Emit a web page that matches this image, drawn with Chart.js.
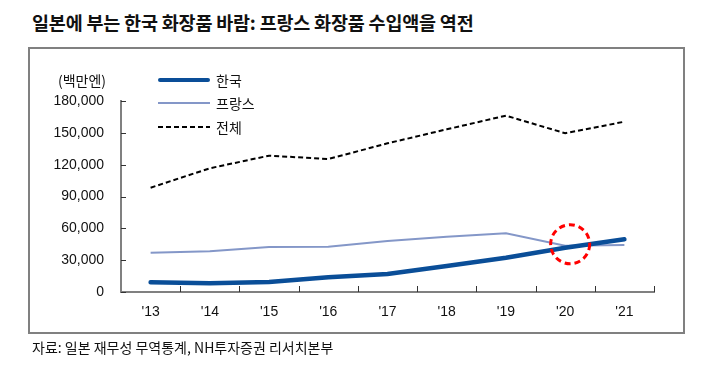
<!DOCTYPE html>
<html>
<head>
<meta charset="utf-8">
<script src="https://cdn.jsdelivr.net/npm/chart.js@4"></script>
<style>
  body { margin: 0; background: #fff; width: 709px; height: 366px; position: relative; overflow: hidden;
         font-family: "Liberation Sans", "Noto Sans CJK KR", sans-serif; }
  #title { position: absolute; left: 32px; top: 9px; font-size: 18.5px; font-weight: bold; color: #111;
           font-family: "Noto Sans CJK KR", sans-serif; letter-spacing: -0.2px; }
  #frame { position: absolute; left: 28px; top: 47px; width: 653px; height: 283px; border: 2px solid #808080; }
  #unit { position: absolute; left: 58px; top: 70px; font-size: 14px; color: #111; font-family: "Noto Sans CJK KR", sans-serif; }
  #legend { position: absolute; left: 158px; top: 68px; font-size: 14px; color: #111; font-family: "Noto Sans CJK KR", sans-serif; }
  #legend div { height: 23.5px; display: flex; align-items: center; }
  #legend span.sw { display: inline-block; width: 52px; margin-right: 6px; }
  #source { position: absolute; left: 32px; top: 337px; font-size: 14px; color: #111; font-family: "Noto Sans CJK KR", sans-serif; }
  canvas { position: absolute; left: 0; top: 0; }
</style>
</head>
<body>
<div id="title">일본에 부는 한국 화장품 바람: 프랑스 화장품 수입액을 역전</div>
<div id="frame"></div>
<canvas id="c" width="709" height="366"></canvas>
<div id="unit">(백만엔)</div>
<div id="legend"></div>
<div id="source">자료: 일본 재무성 무역통계, NH투자증권 리서치본부</div>
<script>
const years = ["'13", "'14", "'15", "'16", "'17", "'18", "'19", "'20", "'21"];
const korea = [9100, 8300, 9400, 13900, 17000, 24500, 32300, 41700, 49700];
const france = [37000, 38300, 42400, 42700, 48000, 52100, 55300, 43600, 44300];
const total = [98300, 116600, 128500, 125300, 140100, 153300, 166200, 149600, 160500];
const yTicks = [0, 30000, 60000, 90000, 120000, 150000, 180000];

const AXIS = '#808080';

// inward tick marks on both axes
const innerTicks = {
  id: 'innerTicks',
  afterDraw(chart) {
    const { ctx, chartArea: a, scales: { x, y } } = chart;
    ctx.save();
    ctx.strokeStyle = '#333';
    ctx.lineWidth = 1;
    yTicks.forEach(v => {
      const py = Math.round(y.getPixelForValue(v)) + 0.5;
      ctx.beginPath(); ctx.moveTo(a.left, py); ctx.lineTo(a.left + 5, py); ctx.stroke();
    });
    for (let i = 1; i <= years.length; i++) {
      const px = Math.round(x.getPixelForValue(i - 0.5)) + 0.5;
      ctx.beginPath(); ctx.moveTo(px, a.bottom); ctx.lineTo(px, a.bottom - 6); ctx.stroke();
    }
    ctx.restore();
  }
};

// red dashed circle around the crossover in '20
const crossMark = {
  id: 'crossMark',
  afterDatasetsDraw(chart) {
    const { ctx, scales: { x, y } } = chart;
    const cx = x.getPixelForValue(7) + 5;
    const cy = y.getPixelForValue(45000);
    ctx.save();
    ctx.strokeStyle = '#ff0000';
    ctx.lineWidth = 3;
    ctx.setLineDash([6, 4]);
    ctx.beginPath(); ctx.arc(cx, cy, 19.5, 0, Math.PI * 2); ctx.stroke();
    ctx.restore();
  }
};

const series = [
  { label: '한국', data: korea, borderColor: '#0a4e98', borderWidth: 4.5, borderDash: [], borderCapStyle: 'round' },
  { label: '프랑스', data: france, borderColor: '#8497c8', borderWidth: 2, borderDash: [] },
  { label: '전체', data: total, borderColor: '#000', borderWidth: 2, borderDash: [5, 3] }
];

new Chart(document.getElementById('c'), {
  type: 'line',
  data: {
    labels: years,
    datasets: series.map(s => Object.assign({ pointRadius: 0, tension: 0, fill: false }, s))
  },
  options: {
    responsive: false,
    animation: false,
    layout: { padding: { left: 0, right: 55, top: 101, bottom: 0 } },
    plugins: { legend: { display: false }, tooltip: { enabled: false } },
    scales: {
      x: {
        offset: true,
        grid: { display: false, drawTicks: false },
        border: { color: AXIS, width: 2 },
        ticks: { color: '#111', padding: 12, font: { size: 14, family: '"Liberation Sans", sans-serif' } },
        afterFit: s => { s.height = 74; }
      },
      y: {
        min: 0, max: 180000,
        afterBuildTicks: s => { s.ticks = yTicks.map(v => ({ value: v })); },
        grid: { display: false, drawTicks: false },
        border: { color: AXIS, width: 2 },
        ticks: {
          color: '#111', padding: 17, font: { size: 14, family: '"Liberation Sans", sans-serif' },
          callback: v => v.toLocaleString('en-US')
        },
        afterFit: s => { s.width = 121; }
      }
    }
  },
  plugins: [innerTicks, crossMark]
});

const legend = document.getElementById('legend');
series.forEach(s => {
  const row = document.createElement('div');
  const sw = document.createElement('span');
  sw.className = 'sw';
  if (s.borderDash.length) {
    sw.style.height = '2px';
    sw.style.background = 'repeating-linear-gradient(90deg, #000 0 5px, transparent 5px 8px)';
  } else {
    sw.style.borderTop = `${s.borderWidth > 3 ? 4 : 2}px solid ${s.borderColor}`;
    if (s.borderWidth > 3) sw.style.borderRadius = '2px';
  }
  row.appendChild(sw);
  row.appendChild(document.createTextNode(s.label));
  legend.appendChild(row);
});
</script>
</body>
</html>
